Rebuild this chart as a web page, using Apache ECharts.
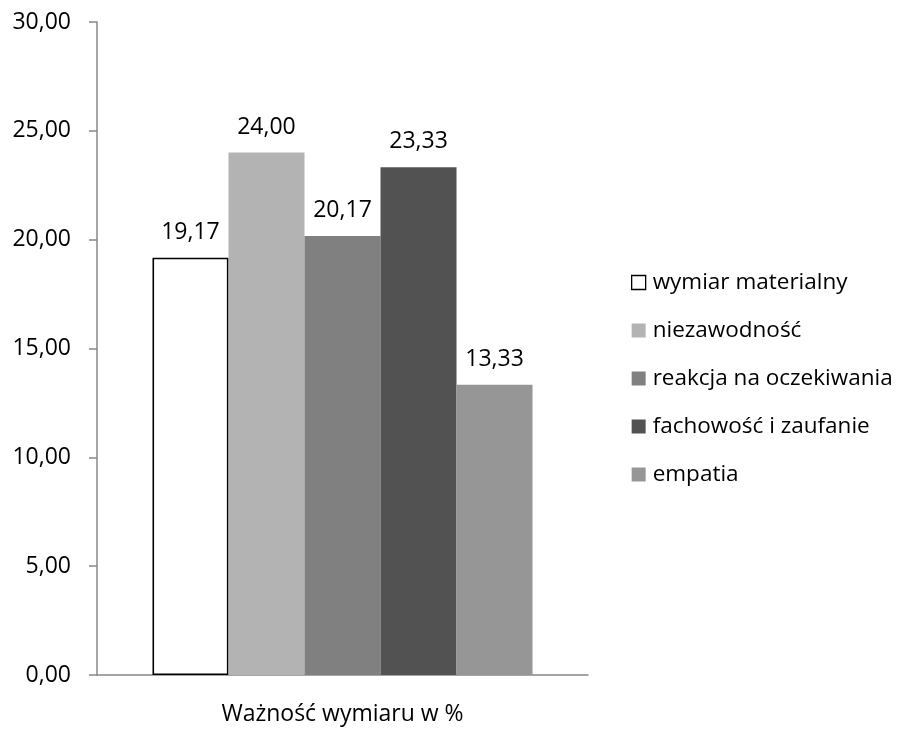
<!DOCTYPE html>
<html>
<head>
<meta charset="utf-8">
<script src="https://cdn.jsdelivr.net/npm/echarts@6/dist/echarts.min.js"></script>
<style>
  html, body { margin: 0; padding: 0; background: #fff; }
  #chart { width: 901px; height: 729px; }
</style>
</head>
<body>
<div id="chart"></div>
<script>
// Importance of each service-quality dimension, in percent
const categories = ['Ważność wymiaru w %'];
const seriesNames = ['wymiar materialny', 'niezawodność', 'reakcja na oczekiwania', 'fachowość i zaufanie', 'empatia'];
const seriesValues = [19.17, 24.00, 20.17, 23.33, 13.33];
const seriesColors = ['#ffffff', '#b3b3b3', '#808080', '#525252', '#969696'];
const yTicks = { min: 0, max: 30, interval: 5 };

const FONT = '"Open Sans", "Liberation Sans", sans-serif';
const fmt = v => Number(v).toFixed(2).replace('.', ',');

const chart = echarts.init(document.getElementById('chart'));

const series = seriesNames.map((name, i) => ({
  name: name,
  type: 'bar',
  data: [seriesValues[i]],
  barGap: '0%',
  barCategoryGap: '22.6%',
  itemStyle: {
    color: seriesColors[i],
    borderColor: i === 0 ? '#000000' : seriesColors[i],
    borderWidth: i === 0 ? 1.6 : 0
  },
  label: {
    show: true,
    position: 'top',
    distance: 14,
    formatter: p => fmt(p.value),
    color: '#000',
    fontSize: 23,
    fontFamily: FONT
  }
}));

chart.setOption({
  animation: false,
  backgroundColor: '#ffffff',
  grid: { left: 97, right: 313, top: 22, bottom: 54 },
  legend: {
    orient: 'vertical',
    left: 631,
    top: 271,
    padding: 0,
    itemWidth: 14,
    itemHeight: 14,
    itemGap: 25,
    icon: 'rect',
    textStyle: { color: '#000', fontSize: 22.5, fontFamily: FONT, padding: [0, 0, 0, 2] },
    data: seriesNames.map((n, i) => ({
      name: n,
      itemStyle: i === 0 ? { color: '#fff', borderColor: '#000', borderWidth: 1.3 } : { color: seriesColors[i] }
    }))
  },
  xAxis: {
    type: 'category',
    data: categories,
    axisLine: { lineStyle: { color: '#888888', width: 1.5 } },
    axisTick: { show: false },
    axisLabel: { color: '#000', fontSize: 23, fontFamily: FONT, margin: 28 }
  },
  yAxis: {
    type: 'value',
    min: yTicks.min,
    max: yTicks.max,
    interval: yTicks.interval,
    splitLine: { show: false },
    axisLine: { show: true, lineStyle: { color: '#888888', width: 1.5 } },
    axisTick: { show: true, length: 8, lineStyle: { color: '#888888', width: 1.5 } },
    axisLabel: { color: '#000', fontSize: 23, fontFamily: FONT, margin: 26, formatter: fmt }
  },
  series: series
});
</script>
</body>
</html>
